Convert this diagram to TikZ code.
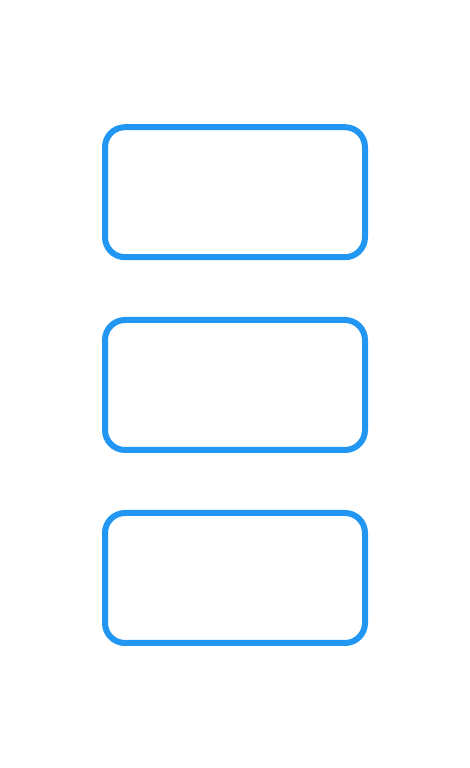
\documentclass[tikz,border=0pt]{standalone}
\usepackage{tikz}
\definecolor{boxblue}{HTML}{2196F3}
\tikzset{
    blank/.style={draw=boxblue, line width=6pt, rounded corners=20pt,
        minimum width=260pt, minimum height=130pt, inner sep=0pt}
}
\begin{document}
\begin{tikzpicture}[x=1pt,y=1pt]
    \useasboundingbox (0,0) rectangle (469,768);
    \node[blank] (top) at (235,575.8) {};
    \node[blank] (mid) at (235,383) {};
    \node[blank] (bot) at (235,190) {};
\end{tikzpicture}
\end{document}
